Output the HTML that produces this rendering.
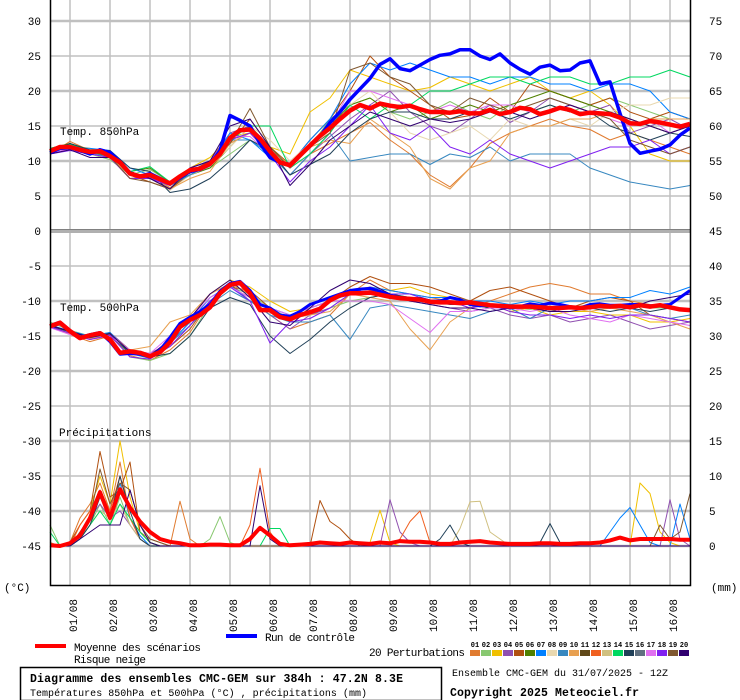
<!DOCTYPE html>
<html><head><meta charset="utf-8"><style>
html,body{margin:0;padding:0;background:#fff;}
svg{display:block;font-family:"Liberation Mono",monospace;}
</style></head><body>
<svg id="chart" width="740" height="700" viewBox="0 0 740 700" xmlns="http://www.w3.org/2000/svg">
<rect x="0" y="0" width="740" height="700" fill="#fff"/>
<g id="grid"></g>
<g id="series"></g>
<g id="axes"></g>
<g id="legend"></g>
</svg>
<script>
// ---------- DATA ----------
const dateLabels = ["01/08","02/08","03/08","04/08","05/08","06/08","07/08","08/08","09/08","10/08","11/08","12/08","13/08","14/08","15/08","16/08"];
const ticks850 = [30,25,20,15,10,5,0];
const ticks500 = [-5,-10,-15,-20,-25,-30,-35,-40,-45];
const ticksRightTop = [75,70,65,60,55,50,45];
const ticksRightMid = [40,35,30,25,20,15,10,5,0];
const memberColors = ["#e07b30","#88c870","#f0c000","#9050b0","#b05010","#508000","#0080ff","#e8d8b0","#3888c0","#e8a050","#604818","#f06020","#d0c080","#00d860","#204058","#607080","#e070f0","#8020f0","#805830","#300070"];
const memberIds = ["01","02","03","04","05","06","07","08","09","10","11","12","13","14","15","16","17","18","19","20"];

// 850 hPa, 6-hourly
const mean850 = [11.4,12,12,11.6,11.3,11.4,10.7,9.8,8.2,7.8,8,7.4,6.8,7.8,8.7,8.9,9.6,11,13.3,14.4,14.5,13.2,11.4,9.8,9.4,10.8,12.2,13.6,14.7,16,17.2,18,17.5,18.2,17.9,17.7,17.9,17.4,17,17,16.9,17.1,16.8,16.8,17.3,16.7,17,17.6,17.4,16.7,17.1,17.6,17.3,16.7,16.9,16.8,16.7,16.2,15.4,15.3,15.7,15.5,15.2,14.9,15.3];
const ctrl850 = [11.2,11.8,11.9,11.5,11.0,11.6,11.2,9.9,8.3,7.8,8.2,7.5,6.8,7.6,8.5,8.8,9.5,11.5,16.5,15.8,15,12.5,10.5,9.8,9.5,10.8,12.2,13.5,15.5,17,18.8,20.3,21.8,23.8,24.6,23.2,22.9,23.7,24.5,25.1,25.3,25.9,25.9,25,24.5,25.3,24,23.1,22.4,23.4,23.7,22.9,23,24,24.3,21,21.3,16.8,12.5,11.1,11.4,11.7,12.3,13.7,14.7];
// 850 hPa perturbations, 12-hourly
const p850_01 = [11,12.8,11.5,10.5,7.5,7.8,6.2,8.0,9.5,13,14,11,9,11,12.5,14,15.5,13,11,8,6.3,9,12.5,14,15,16,15,14.5,13,14,13,12,11];
const p850_02 = [11.5,12.5,11,10.2,8,8.8,7,8.5,9,11,13,11,9.5,12,16,18,19,17,16,17,18.5,17,16,18,17,18,17,18,19,18,17,16,16];
const p850_03 = [11.6,12.2,11.8,11,8.5,7.5,6.5,9,10.5,13.5,14,12,11,17,19,23,22,21,20,20.5,22,21,20,21,22,20,19,20,18,15,11,10,10];
const p850_04 = [11,11.8,11.2,10.5,7.5,7.6,6.5,9,10,14,15,11,8,11,13.5,16,18,20,17,15,14,16,18,15.5,17,19,18,17,18,14,15,16,14.5];
const p850_05 = [11.2,12.2,11.5,10.8,8,7,6,8,9.5,12.5,16,12,9.5,13,16,20,25,22,20,18,16,16.5,19,17,21,20,19,18,19,17,16,17,16];
const p850_06 = [11.8,12.5,11.5,10.5,8.5,9,7,8,9,12,15,12,9,12,15,18,19,17,18,16,17,18,17,18,19,20,19,18,17,16,15,14,15];
const p850_07 = [11.6,12,11.8,11.5,9,8,6.5,8,9.5,14,13,10.5,9.5,13,16,21,24,23,24,23,22,22,21,22,22,21,21,20,21,21,20,17,16];
const p850_08 = [11.4,12,11,10.5,8,7.5,5.8,8,9.2,12,15,13,10,12.5,14,18,20,17,14,13,14,15,13,16,15,15,16,15,17,18,18,19,19];
const p850_09 = [11.5,12,11.2,10.5,8,7.5,6.5,8,9.5,13,13,11,8,11,14,10,10.5,11,11,9.5,11,10.5,12,10,11,11,11,9,8,7,6.5,6,6.5];
const p850_10 = [11.2,12.3,11,10.5,8,8,6,7.5,8.5,12.5,14,11.5,9.5,12,13,12.5,16,14,12,7.5,6,9,10,14,15,15,16,16,17,15,16,16,16];
const p850_14 = [11.8,12.4,11.4,10.5,8.5,9.2,7,8.5,9.5,13,15,15,9,11,14,18,16,18,18,20,20,21,22,22,21,22,22,21,21,22,22,23,22];
const p850_15 = [11.4,12.5,11.6,11.5,9,8.5,5.5,6,7.5,10,13,11.5,8,9.5,11,14,16,17,17,16,16,17,17,16,17,18,17,17,15,14,13,14,13.5];
const p850_17 = [11,11.8,11,10.5,7.5,7.5,6.5,9,10,13.5,13.5,11,9,12,15,20,20,19,18,17,18,17,18,18,17,17,18,17,16,15,16,14,15];
const p850_18 = [11,11.5,11,10.5,7.5,7.5,6.5,9,10,13,14,11,7,10,12,15,18,14,13,15,12,11,13,11,10,9,10,11,12,12,13,11,12];
const p850_19 = [11.3,12.2,11.4,10.6,7.5,7,6,8.5,10,12.5,17.5,12,9,12,14,23,24,22,21,18,17,19,18,17,18,19,18,17,16,13,12,11,12];
const p850_20 = [11,11.6,10.5,10.5,8.5,7.5,6,9,10,15,16,12,6.5,9.5,13,15,17,16,15,16,15.5,16,17,17,16,17,18,17,17,16,15,14,15];

// 500 hPa, 6-hourly
const mean500 = [-13.6,-13.1,-14.3,-15.3,-14.9,-14.6,-15.5,-17.4,-17.2,-17.4,-17.9,-17.3,-15.9,-13.7,-12.7,-12,-10.9,-8.9,-7.7,-7.4,-8.9,-11.3,-11.3,-12.3,-12.6,-12,-11.6,-11.1,-9.9,-9.2,-8.9,-8.9,-8.8,-9.1,-9.4,-9.6,-9.7,-9.8,-10.1,-10.2,-10.2,-10.3,-10.2,-10.4,-10.6,-10.7,-10.8,-10.8,-10.8,-10.9,-11,-11,-10.9,-11,-10.9,-10.7,-10.8,-10.7,-10.9,-10.6,-10.8,-10.6,-10.9,-11.2,-11.3];
const ctrl500 = [-13.5,-13,-14.2,-15.2,-14.8,-14.5,-15.8,-17.6,-17.5,-17.6,-18,-17,-15.2,-13.2,-12.3,-11.5,-10.5,-8.6,-7.5,-7.2,-8.5,-10.5,-11,-12,-12.2,-11.5,-10.5,-10,-9.5,-9,-8.5,-8.3,-8.2,-8.6,-9.2,-9.5,-9.8,-9.6,-10,-10,-9.5,-9.8,-10.5,-10.7,-10.6,-10.8,-11,-10.8,-10.4,-10.6,-10.3,-10.5,-10.8,-11,-10.5,-10.4,-10.6,-10.6,-10.5,-10.5,-10.7,-10.6,-10.5,-9.5,-8.5];
// 500 hPa perturbations, 12-hourly
const p500_01 = [-13.5,-14.8,-15.8,-15,-17.8,-18.5,-17,-14.5,-10,-8,-9.5,-12,-14,-13,-12,-9,-7,-8.5,-9,-9.5,-10,-11,-10,-9,-8,-7.5,-8,-9,-9,-10,-10.5,-11,-11.5];
const p500_02 = [-13,-14.2,-15,-14.5,-18,-18.5,-17.5,-15,-10.5,-8,-9,-11,-12.5,-12,-11,-10,-9.5,-9,-9.5,-10,-10,-10.5,-11,-11,-11.2,-11,-11,-10.5,-11,-10.5,-11,-11,-11.5];
const p500_03 = [-13.8,-14.5,-15.5,-15,-17,-18,-15.5,-12.5,-9,-7,-8,-10,-11.5,-11,-10,-8.5,-8,-8.5,-8,-9,-9.5,-10,-10.5,-11.5,-11,-12,-11.5,-11.5,-12,-12,-13,-13,-12.5];
const p500_04 = [-13.5,-14.4,-15.5,-14.5,-17,-17.5,-16,-13,-10,-7.5,-10,-12,-14,-12,-11,-9,-8.5,-9,-10,-10.5,-11,-11.5,-11,-12,-12.5,-12,-13,-12.5,-12,-13,-14,-13.5,-13];
const p500_05 = [-13.7,-14.6,-15.3,-15,-17.5,-18,-16.5,-14,-10,-8,-8.5,-11,-13,-11,-10,-8,-6.5,-7.5,-7.5,-8,-9,-10,-8.5,-8,-9,-10,-11,-10,-9.5,-10,-12,-12.5,-13];
const p500_07 = [-13.4,-14.3,-15,-14.5,-17.5,-18,-16,-13,-9.5,-7.8,-10,-11,-12,-11,-10,-9,-8,-8.5,-9,-9.5,-9.5,-10,-10,-10.5,-10,-10.5,-10,-10,-9.5,-9.5,-8.5,-9,-8];
const p500_09 = [-13.6,-14.5,-15.2,-14.8,-17.5,-18.2,-16,-13.5,-10.5,-8.5,-10,-12,-13,-13,-12,-15.5,-11,-10.5,-11,-11.5,-12,-12.5,-11.5,-11,-12.5,-11,-11,-11,-10.5,-11,-12,-12.5,-12];
const p500_10 = [-13.5,-14.6,-15.4,-14.8,-17,-16.5,-13,-12,-9,-7.5,-9,-11.5,-12.5,-12,-11.5,-9,-9.5,-10,-14,-17,-13,-11,-10.5,-11,-11,-11.5,-11,-11.5,-11,-11.5,-12,-13,-14];
const p500_15 = [-13.6,-14.4,-15.2,-14.6,-17.5,-18,-17.5,-15,-11,-9.5,-10.5,-15,-17.5,-15.5,-13,-11,-9.5,-9,-9.5,-10,-10.5,-10.5,-11,-11,-11,-11.5,-11,-11,-11.5,-11,-11.5,-11,-11.5];
const p500_17 = [-13.8,-14.8,-15.5,-15,-17,-17.5,-15,-12.5,-9.5,-8,-9.5,-11,-12,-11,-10,-10,-10,-10.5,-12.5,-14.5,-11.5,-11.5,-11,-11,-11.5,-11,-12,-12.5,-13,-12,-12.5,-13,-13.5];
const p500_18 = [-13.7,-14.6,-15.5,-14.9,-18,-18.3,-16.5,-13.5,-10,-8,-10,-16,-13,-12.5,-11,-9,-8,-9,-9,-10,-10,-11,-10.5,-11.5,-12,-12,-12.5,-12,-12.5,-12,-12,-12.5,-13];
const p500_20 = [-13.5,-14.3,-15.2,-14.7,-17.2,-17.8,-15.5,-12.5,-9,-7,-9.5,-13,-13.5,-11,-8.5,-7,-7.5,-9,-10,-10.5,-11,-11,-11.5,-11,-11,-11.5,-11.5,-11,-11,-11,-10,-9.5,-9];

// Precipitation (mm), 6-hourly
const precipMean = [0.1,0,0.4,1.5,4,7.7,4,8.1,5.5,3.5,
 2,1,0.6,0.4,0.1,0.1,0.2,0.2,0.1,0.1,
 1,2.6,1.5,0.3,0.1,0.2,0.3,0.5,0.4,0.3,
 0.5,0.4,0.3,0.5,0.4,0.7,0.6,0.6,0.5,0.3,
 0.3,0.5,0.6,0.7,0.5,0.4,0.3,0.3,0.3,0.4,
 0.4,0.3,0.3,0.4,0.4,0.5,0.8,1.2,0.8,1,
 1,1,1,0.9,0.9];
const pr_01 = [0.5,0,0.5,4,6,9,5,12,4,2,
 1,0.5,0,6.4,1,0,0,0,0,0,
 0,0,0,0,0,0,0,0,0,0,
 0,0,0,0,0,0,0,0,0,0,
 0,0,0,0,0,0,0,0,0,0,
 0,0,0,0,0,0,0,0,0,0,
 0,0,0,0,0];
const pr_02 = [3,0,0,1,3,6,3,7,3,1,
 0,0,0,0,0,0,1,4.2,0.5,0,
 0,0,0,0,0,0,0,0,0,0,
 0,0,0,0,0,0,0,0,0,0,
 0,0,0,0,0,0,0,0,0,0,
 0,0,0,0,0,0,0,0,0,0,
 0,0,0,0,0];
const pr_03 = [0,0,0,3,5,10,6,15,7,2,
 0.5,0,0,0,0,0,0,0,0,0,
 0,0,0,0,0,0,0,0,0,0,
 0,0,0.5,5.1,0.5,0,0,0,0,0,
 0,0,0,0,0,0,0,0,0,0,
 0,0,0,0,0,0,0,0,0,9,
 7.5,2,0.5,0,0];
const pr_04 = [0,0,0,2,4,6,4,5,3,1,
 0,0,0,0,0,0,0,0,0,0,
 0,0,0,0,0,0,0,0,0,0,
 0,0,0,0,6.6,2,0.5,0,0,0,
 0,0,0,0,0,0,0,0,0,0,
 0,0,0,0,0,0,0,0,0,0,
 0,0,6.6,1,0];
const pr_05 = [0,0,0.5,3,5,13.5,7,8,12,2,
 0.5,0,0,0,0,0,0,0,0,0,
 0,0,0,0,0,0,0,6.5,3.5,2.5,
 1,0,0,0,0,0,0,0,0,0,
 0,0,0,0,0,0,0,0,0,0,
 0,0,0,0,0,0,0,0,0,0,
 0,0,0,0,0];
const pr_07 = [0,0,0,1,4,8,4,9,4,1.5,
 0,0,0,0,0,0,0,0,0,0,
 0,0,0,0,0,0,0,0,0,0,
 0,0,0,0,0,0,0,0,0,0,
 0,0,0,0,0,0,0,0,0,0,
 0,0,0,0,0,0,2,4,5.5,3,
 0.5,0,0,6,1];
const pr_12 = [0,0,0,3,5,8,5,10,4,1,
 0,0,0,0,0,0,0,0,0,0,
 3,11.1,2,0,0,0,0,0,0,0,
 0,0,0,0,0,1,3.5,5,0.5,0,
 0,0,0,0,0,0,0,0,0,0,
 0,0,0,0,0,0,0,0,0,0,
 0,0,0,0,0];
const pr_13 = [0,0,0,1,3,5,4,6,3,1,
 0,0,0,0,0,0,0,0,0,0,
 0,0,0,0,0,0,0,0,0,0,
 0,0,0,0,0,0,0,0,0,0,
 0,2.5,6.3,6.4,2,1,0,0,0,0,
 0,0,0,0,0,0,0,0,0,0,
 0,0,0,0,0];
const pr_14 = [2,0,0,1,3,5,3,6,4,2,
 0.5,0,0,0,0,0,0,0,0,0,
 0,0,2.5,2.5,0,0,0,0,0,0,
 0,0,0,0,0,0,0,0,0,0,
 0,0,0,0,0,0,0,0,0,0,
 0,0,0,0,0,0,0,0,0,0,
 0,0,0,0,0];
const pr_15 = [0,0,0,1,3,7,4,10,5,1,
 0,0,0,0,0,0,0,0,0,0,
 0,0,0,0,0,0,0,0,0,0,
 0,0,0,0,0,0,0,0,0,1,
 3,0.5,0,0,0,0,0,0,0,0.5,
 3.2,0.5,0,0,0,0,0,0,0,0,
 0,0,0,0,0];
const pr_19 = [0,0,0,2,4,11,6,9,8,3,
 1,0.5,0,0,0,0,0,0,0,0,
 0,0,0,0,0,0,0,0,0,0,
 0,0,0,0,0,0,0,0,0,0,
 0,0,0,0,0,0,0,0,0,0,
 0,0,0,0,0,0,0,0,0,0,
 0,3,1,2,7.5];
const pr_20 = [0,0,0,1,2,3,3,3,8,3,
 0.5,0,0,0,0,0,0,0,0,0,
 0,8.6,1,0,0,0,0,0,0,0,
 0,0,0,0,0,0,0,0,0,0,
 0,0,0,0,0,0,0,0,0,0,
 0,0,0,0,0,0,0,0,0,0,
 0,0,0,0,0];

// ---------- SCALES ----------
const X0 = 50, X1 = 690, NSTEP = 64;
function xAt(i, n){ return X0 + (X1 - X0) * i / (n - 1); }
function y850(v){ return 231 - v * 7; }
function y500(v){ return 266 + (-5 - v) * 7; }
function yPr(v){ return 546 - v * 7; }

const NS = "http://www.w3.org/2000/svg";
function mk(tag, attrs, parent){
  const e = document.createElementNS(NS, tag);
  for (const k in attrs) e.setAttribute(k, attrs[k]);
  parent.appendChild(e);
  return e;
}
const gGrid = document.getElementById('grid');
const gSer = document.getElementById('series');
const gAx = document.getElementById('axes');
const gLeg = document.getElementById('legend');

// ---------- GRID ----------
for (let k = 0; k < 16; k++) {
  const x = 70 + 40 * k;
  const l = mk('line', {x1:x, y1:0, x2:x, y2:585, stroke:'#c0c0c0', 'stroke-width':1.5}, gGrid);
  
  
}
ticks850.forEach((v, j) => {
  const y = y850(v);
  const l = mk('line', {x1:50, y1:y, x2:690, y2:y, stroke:'#c0c0c0', 'stroke-width': (v % 10 === 0 ? 2.5 : 1.5)}, gGrid);
  
  
});
ticks500.forEach((v) => {
  if (v === -45) return;
  const y = y500(v);
  const l = mk('line', {x1:50, y1:y, x2:690, y2:y, stroke:'#c0c0c0', 'stroke-width': (v % 10 === 0 ? 2.5 : 1.5)}, gGrid);
  
  
});
{
  const y = y500(-45);
  const l = mk('line', {x1:50, y1:y, x2:690, y2:y, stroke:'#c0c0c0', 'stroke-width':2.5}, gGrid);
  
  
}
const sep = mk('rect', {x:50, y:229, width:640, height:4, fill:'#b0b0b0'}, gGrid);


const sep2 = mk('line', {x1:50, y1:229.5, x2:690, y2:229.5, stroke:'#808080', 'stroke-width':1}, gGrid);



// ---------- SERIES ----------
function poly(vals, yfn, color, width, name){
  const n = vals.length;
  const pts = vals.map((v, i) => xAt(i, n).toFixed(1) + ',' + yfn(v).toFixed(1)).join(' ');
  const p = mk('polyline', {points: pts, fill:'none', stroke: color, 'stroke-width': width, 'stroke-linejoin':'round'}, gSer);
  
  
  return p;
}
const pert850 = [[p850_01,0],[p850_02,1],[p850_03,2],[p850_04,3],[p850_05,4],[p850_06,5],[p850_07,6],[p850_08,7],[p850_09,8],[p850_10,9],[p850_14,13],[p850_15,14],[p850_17,16],[p850_18,17],[p850_19,18],[p850_20,19]];
const pert500 = [[p500_01,0],[p500_02,1],[p500_03,2],[p500_04,3],[p500_05,4],[p500_07,6],[p500_09,8],[p500_10,9],[p500_15,14],[p500_17,16],[p500_18,17],[p500_20,19]];
const pertPr = [[pr_01,0],[pr_02,1],[pr_03,2],[pr_04,3],[pr_05,4],[pr_07,6],[pr_12,11],[pr_13,12],[pr_14,13],[pr_15,14],[pr_19,18],[pr_20,19]];
pert850.forEach(([a, c]) => poly(a, y850, memberColors[c], 1, 'perturbation-850-' + memberIds[c]));
pert500.forEach(([a, c]) => poly(a, y500, memberColors[c], 1, 'perturbation-500-' + memberIds[c]));
pertPr.forEach(([a, c]) => poly(a, yPr, memberColors[c], 1, 'perturbation-precip-' + memberIds[c]));
poly(ctrl850, y850, '#0000ff', 3.5, 'control-run-850');
poly(ctrl500, y500, '#0000ff', 3, 'control-run-500');
poly(mean850, y850, '#ff0000', 4.5, 'ensemble-mean-850');
poly(mean500, y500, '#ff0000', 4.5, 'ensemble-mean-500');
poly(precipMean, yPr, '#ff0000', 4, 'ensemble-mean-precip');

// ---------- AXES ----------
function txt(s, attrs, parent, name){
  const t = mk('text', attrs, parent);
  t.textContent = s;
  
  
  return t;
}
const frame = mk('path', {d:'M50.5,0 V585.5 H690.5 V0', fill:'none', stroke:'#000', 'stroke-width':1.5}, gAx);


ticks850.forEach(v => txt(String(v), {x:41, y:y850(v)+4, 'text-anchor':'end', 'font-size':11}, gAx, 'y-tick-850'));
ticks500.forEach(v => txt(String(v), {x:41, y:y500(v)+4, 'text-anchor':'end', 'font-size':11}, gAx, 'y-tick-500'));
ticksRightTop.forEach((v, j) => txt(String(v), {x:709, y:21 + 35*j + 4, 'font-size':11}, gAx, 'right-tick-top'));
ticksRightMid.forEach((v, j) => txt(String(v), {x:709, y:266 + 35*j + 4, 'font-size':11}, gAx, 'right-tick-precip'));
txt('(°C)', {x:4, y:591, 'font-size':11}, gAx, 'left-unit-label');
txt('(mm)', {x:711, y:591, 'font-size':11}, gAx, 'right-unit-label');
dateLabels.forEach((d, k) => {
  const x = 77 + 40 * k;
  txt(d, {x:x, y:632, 'font-size':11, transform:'rotate(-90 ' + x + ' 632)'}, gAx, 'x-date-label');
});
txt('Temp. 850hPa', {x:60, y:135, 'font-size':11}, gAx, 'panel-title-850');
txt('Temp. 500hPa', {x:60, y:311, 'font-size':11}, gAx, 'panel-title-500');
txt('Précipitations', {x:59, y:436, 'font-size':11}, gAx, 'panel-title-precip');

// ---------- LEGEND ----------
const lm = mk('rect', {x:35, y:644, width:31, height:4, fill:'#ff0000'}, gLeg);


txt('Moyenne des scénarios', {x:74, y:651, 'font-size':11, textLength:127}, gLeg, 'legend-mean-label');
txt('Risque neige', {x:74, y:663, 'font-size':11, textLength:72}, gLeg, 'legend-snow-label');
const lc = mk('rect', {x:226, y:634, width:31, height:4, fill:'#0000ff'}, gLeg);


txt('Run de contrôle', {x:265, y:641, 'font-size':11, textLength:90}, gLeg, 'legend-control-label');
txt('20 Perturbations', {x:369, y:656, 'font-size':11, textLength:96}, gLeg, 'legend-perturbations-label');
memberColors.forEach((c, k) => {
  const x = 470 + k * 11;
  const r = mk('rect', {x:x, y:650, width:10, height:6, fill:c}, gLeg);
  
  
  txt(memberIds[k], {x:x + 5, y:647, 'font-size':7, 'font-weight':'bold', 'text-anchor':'middle'}, gLeg, 'legend-member-number');
});
const box = mk('rect', {x:20.5, y:667.5, width:421, height:33, fill:'none', stroke:'#000', 'stroke-width':1.5}, gLeg);


txt('Diagramme des ensembles CMC-GEM sur 384h : 47.2N 8.3E', {x:30, y:682, 'font-size':11.5, 'font-weight':'bold', textLength:373}, gLeg, 'chart-title');
txt('Températures 850hPa et 500hPa (°C) , précipitations (mm)', {x:30, y:696, 'font-size':10, textLength:337}, gLeg, 'chart-subtitle');
txt('Ensemble CMC-GEM du 31/07/2025 - 12Z', {x:452, y:676, 'font-size':10, textLength:216}, gLeg, 'run-info');
txt('Copyright 2025 Meteociel.fr', {x:450, y:696, 'font-size':11.5, 'font-weight':'bold', textLength:189}, gLeg, 'copyright');
</script>
</body></html>
